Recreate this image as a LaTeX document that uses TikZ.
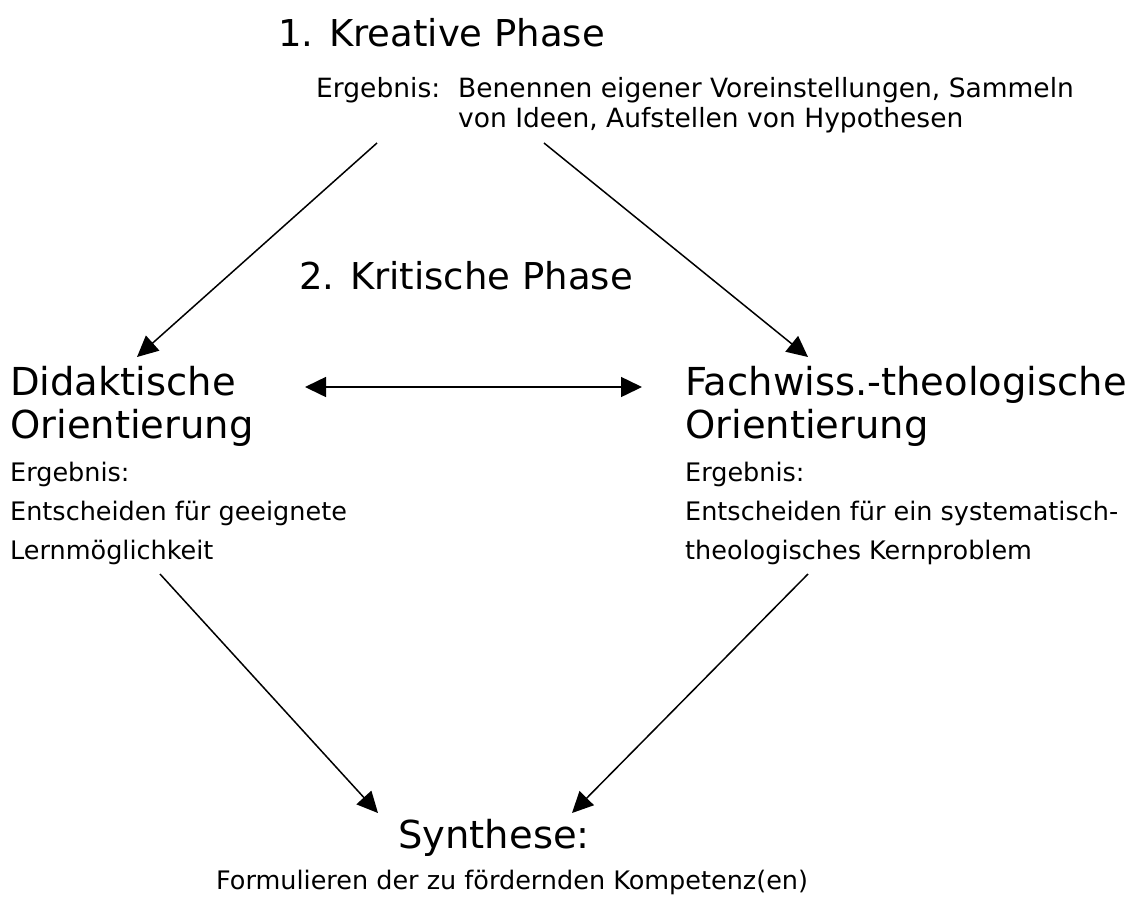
\documentclass[tikz,border=0pt]{standalone}
\usepackage{fontspec}
\setmainfont{DejaVu Sans}
\usetikzlibrary{arrows.meta}
\begin{document}
\begin{tikzpicture}[x=1pt,y=-1pt,
  title/.style={anchor=base west, inner sep=0pt, font=\fontsize{37}{44}\selectfont},
  big/.style={anchor=base west, inner sep=0pt, font=\fontsize{38.5}{44}\selectfont},
  small/.style={anchor=base west, inner sep=0pt, font=\fontsize{25.5}{30}\selectfont},
  topsmall/.style={anchor=base west, inner sep=0pt, font=\fontsize{26.5}{30}\selectfont},
  arr/.style={-{Triangle[length=21pt,width=20pt]}, line width=1.5pt},
  darr/.style={{Triangle[length=21pt,width=20pt]}-{Triangle[length=21pt,width=20pt]}, line width=1.5pt}]
\useasboundingbox (0,0) rectangle (1143,914);
% top
\node[title] (t1) at (278,46) {1. Kreative Phase};
\node[topsmall] (e1) at (316,97) {Ergebnis:};
\node[topsmall] (e1a) at (458,97) {Benennen eigener Voreinstellungen, Sammeln};
\node[topsmall] (e1b) at (458,127) {von Ideen, Aufstellen von Hypothesen};
\node[title] (t2) at (299,289) {2. Kritische Phase};
% left
\node[big] (d1) at (10,395) {Didaktische};
\node[big] (d2) at (10,438) {Orientierung};
\node[small] (d3) at (10,481) {Ergebnis:};
\node[small] (d4) at (10,520) {Entscheiden für geeignete};
\node[small] (d5) at (10,559) {Lernmöglichkeit};
% right
\node[big] (f1) at (685,395) {Fachwiss.-theologische};
\node[big] (f2) at (685,438) {Orientierung};
\node[small] (f3) at (685,481) {Ergebnis:};
\node[small] (f4) at (685,520) {Entscheiden für ein systematisch-};
\node[small] (f5) at (685,559) {theologisches Kernproblem};
% bottom
\node[big] (s1) at (398,848) {Synthese:};
\node[small] (s2) at (216,889) {Formulieren der zu fördernden Kompetenz(en)};
% connector ends
\coordinate (a1s) at (377,143);
\coordinate (a1e) at (137,357);
\coordinate (a2s) at (544,143);
\coordinate (a2e) at (808,357);
\coordinate (hl) at (305,387);
\coordinate (hr) at (642,387);
\coordinate (b1s) at (160,574);
\coordinate (b1e) at (378,813);
\coordinate (b2s) at (808,574);
\coordinate (b2e) at (572,813);
\draw[arr] (a1s) -- (a1e);
\draw[arr] (a2s) -- (a2e);
\draw[darr] (hl) -- (hr);
\draw[arr] (b1s) -- (b1e);
\draw[arr] (b2s) -- (b2e);
\end{tikzpicture}
\end{document}
